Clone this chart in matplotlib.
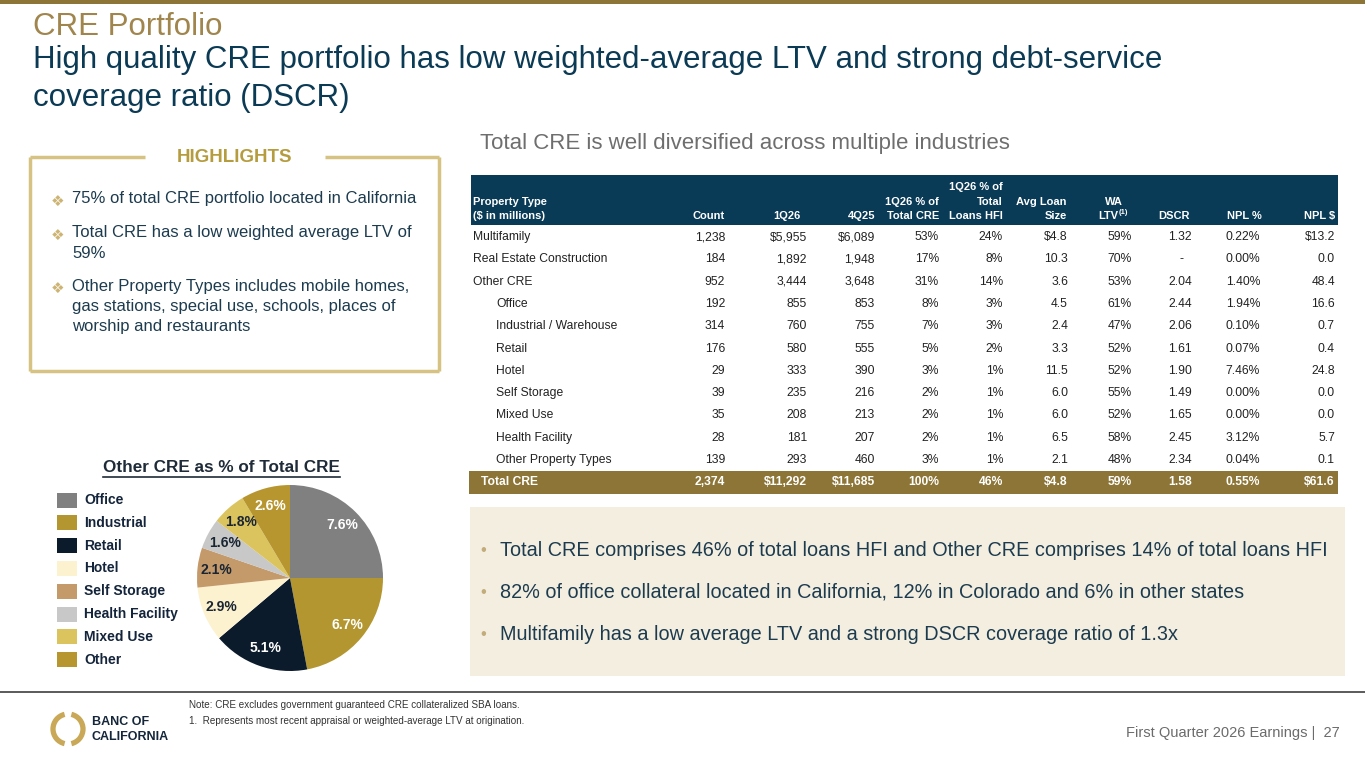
import matplotlib
matplotlib.use("Agg")
import matplotlib.pyplot as plt
from matplotlib.patches import Rectangle, Arc

plt.rcParams['font.family'] = ['Liberation Sans', 'DejaVu Sans']

# ---- data ----
property_types = ["Multifamily", "Real Estate Construction", "Other CRE", "Office",
                  "Industrial / Warehouse", "Retail", "Hotel", "Self Storage",
                  "Mixed Use", "Health Facility", "Other Property Types"]
indented = [False, False, False, True, True, True, True, True, True, True, True]
count = [1238, 184, 952, 192, 314, 176, 29, 39, 35, 28, 139]
bal_1q26 = [5955, 1892, 3444, 855, 760, 580, 333, 235, 208, 181, 293]
bal_4q25 = [6089, 1948, 3648, 853, 755, 555, 390, 216, 213, 207, 460]
pct_total_cre = [53, 17, 31, 8, 7, 5, 3, 2, 2, 2, 3]
pct_loans_hfi = [24, 8, 14, 3, 3, 2, 1, 1, 1, 1, 1]
avg_loan = [4.8, 10.3, 3.6, 4.5, 2.4, 3.3, 11.5, 6.0, 6.0, 6.5, 2.1]
wa_ltv = [59, 70, 53, 61, 47, 52, 52, 55, 52, 58, 48]
dscr = [1.32, None, 2.04, 2.44, 2.06, 1.61, 1.90, 1.49, 1.65, 2.45, 2.34]
npl_pct = [0.22, 0.00, 1.40, 1.94, 0.10, 0.07, 7.46, 0.00, 0.00, 3.12, 0.04]
npl_amt = [13.2, 0.0, 48.4, 16.6, 0.7, 0.4, 24.8, 0.0, 0.0, 5.7, 0.1]

total_row = ["Total CRE", "2,374", "$11,292", "$11,685", "100%", "46%", "$4.8",
             "59%", "1.58", "0.55%", "$61.6"]

pie_labels = ["Office", "Industrial", "Retail", "Hotel", "Self Storage",
              "Health Facility", "Mixed Use", "Other"]
pie_values = [7.6, 6.7, 5.1, 2.9, 2.1, 1.6, 1.8, 2.6]
pie_colors = ["#808080", "#B3962F", "#0C1B2B", "#FDF2CF", "#C49A6B",
              "#C8C8C8", "#DBC45E", "#B8962F"]
pie_text_colors = ["white", "white", "white", "#1A2533", "#1A2533",
                   "#1A2533", "#1A2533", "white"]

highlights = [
    "75% of total CRE portfolio located in California",
    "Total CRE has a low weighted average LTV of\n59%",
    "Other Property Types includes mobile homes,\ngas stations, special use, schools, places of\nworship and restaurants",
]
takeaways = [
    "Total CRE comprises 46% of total loans HFI and Other CRE comprises 14% of total loans HFI",
    "82% of office collateral located in California, 12% in Colorado and 6% in other states",
    "Multifamily has a low average LTV and a strong DSCR coverage ratio of 1.3x",
]

NAVY = "#0B3A55"
TEAL_TXT = "#1C3B4E"
GOLD = "#8C7536"
W, H = 1365, 768

fig = plt.figure(figsize=(W / 100, H / 100), dpi=100)
ax = fig.add_axes([0, 0, 1, 1])
ax.set_xlim(0, W)
ax.set_ylim(H, 0)
ax.axis('off')

# top bar + titles
ax.add_patch(Rectangle((0, 0), W, 4, color=GOLD, lw=0))
ax.text(33, 27, "CRE Portfolio", fontsize=22.5, color="#A0854D", va='center')
ax.text(33, 60, "High quality CRE portfolio has low weighted-average LTV and strong debt-service",
        fontsize=22.5, color=NAVY, va='center')
ax.text(33, 98, "coverage ratio (DSCR)", fontsize=22.5, color=NAVY, va='center')

# highlights box
bc = "#D6C283"
for seg in [((30, 145), (157, 157)), ((325, 439), (157, 157)), ((30, 30), (157, 371)),
            ((439, 439), (157, 371)), ((30, 439), (371, 371))]:
    ax.plot(seg[0], seg[1], color=bc, lw=2.5, solid_capstyle='butt')
ax.text(234, 158, "HIGHLIGHTS", fontsize=13.5, fontweight='bold', color="#B59C3E",
        ha='center', va='center')
hy = [201, 235, 288]
for y, t in zip(hy, highlights):
    ax.text(58, y, "\u2756", fontsize=11, color="#CDB473", ha='center', va='center',
            family=['DejaVu Sans'])
    ax.text(72, y - 9.5, t, fontsize=12, color=TEAL_TXT, ha='left', va='top',
            linespacing=1.45)

# table
ax.text(480, 143, "Total CRE is well diversified across multiple industries",
        fontsize=16, color="#6E6E6E", va='center')
TR = 1338
ax.add_patch(Rectangle((471, 175), TR - 471, 50, color="#093A56", lw=0))
val_right = [725, 807, 875, 939, 1003, 1068, 1132, 1192, 1260, 1335]
hdr_right = [725, 801, 875, 939, 1003, 1067, 1118, 1190, 1262, 1335]
headers = [["", "", "Count"], ["", "", "1Q26"], ["", "", "4Q25"],
           ["", "1Q26 % of", "Total CRE"], ["1Q26 % of", "Total", "Loans HFI"],
           ["", "Avg Loan", "Size"], ["", "WA", "LTV"], ["", "", "DSCR"],
           ["", "", "NPL %"], ["", "", "NPL $"]]
hdr_y = [187, 202, 216]
hfs = 8
ax.text(473, hdr_y[1], "Property Type", fontsize=hfs, color='white', va='center',
        fontweight='bold')
ax.text(473, hdr_y[2], "($ in millions)", fontsize=hfs, color='white', va='center',
        fontweight='bold')
for x, lines in zip(hdr_right, headers):
    for y, t in zip(hdr_y, lines):
        if not t:
            continue
        ax.text(x + (5 if t == "WA" else 0), y, t, fontsize=hfs, color='white',
                ha='right', va='center', fontweight='bold')
        if t == "LTV":
            ax.text(x + 0.5, y - 3.5, "(1)", fontsize=5.5, color='white', ha='left',
                    va='center', fontweight='bold')

row_y0, row_h = 237, 22.3
fs = 8.7
for i, name in enumerate(property_types):
    y = row_y0 + i * row_h
    dollar = "$" if i == 0 else ""
    cells = [f"{count[i]:,}", f"{dollar}{bal_1q26[i]:,}", f"{dollar}{bal_4q25[i]:,}",
             f"{pct_total_cre[i]}%", f"{pct_loans_hfi[i]}%", f"{dollar}{avg_loan[i]:.1f}",
             f"{wa_ltv[i]}%", "-" if dscr[i] is None else f"{dscr[i]:.2f}",
             f"{npl_pct[i]:.2f}%", f"{dollar}{npl_amt[i]:.1f}"]
    ax.text(496 if indented[i] else 473, y, name, fontsize=fs, color="#222222",
            va='center')
    for x, c in zip(val_right, cells):
        xx = x - 9 if c == "-" else x
        ax.text(xx, y, c, fontsize=fs, color="#222222", ha='right', va='center')

ty = row_y0 + len(property_types) * row_h
ax.add_patch(Rectangle((469, ty - 11.5), TR - 469, 23, color=GOLD, lw=0))
ax.text(481, ty, total_row[0], fontsize=fs, color='white', va='center',
        fontweight='bold')
for x, c in zip(val_right, total_row[1:]):
    ax.text(x, ty, c, fontsize=fs, color='white', ha='right', va='center',
            fontweight='bold')

# takeaway box
ax.add_patch(Rectangle((470, 507), 1345 - 470, 169, color="#F4EEE1", lw=0))
for y, t in zip([551, 592, 634], takeaways):
    ax.text(483, y, "\u2022", fontsize=12, color="#C2AD7A", va='center', ha='center')
    ax.text(500, y, t, fontsize=14.3, color=TEAL_TXT, va='center')

# pie title + legend
ax.text(221, 467, "Other CRE as % of Total CRE", fontsize=12.3, fontweight='bold',
        color="#1F2B38", ha='center', va='center')
ax.plot([103, 340], [477, 477], color="#1F2B38", lw=1.2)
for i, (lab, col) in enumerate(zip(pie_labels, pie_colors)):
    y = 500 + i * 22.8
    ax.add_patch(Rectangle((57, y - 7.5), 20, 15, color=col, lw=0))
    ax.text(84, y, lab, fontsize=10, fontweight='bold', color="#14243A", va='center')

pcx, pcy, pr = 290, 578, 93
pax = fig.add_axes([(pcx - pr) / W, 1 - (pcy + pr) / H, 2 * pr / W, 2 * pr / H])
total_other = sum(pie_values)
wedges, texts, autotexts = pax.pie(pie_values, colors=pie_colors, startangle=90,
                                   counterclock=False,
                                   autopct=lambda p: f"{p * total_other / 100:.1f}%",
                                   pctdistance=0.8,
                                   textprops=dict(fontsize=10, fontweight='bold'))
for at, tc in zip(autotexts, pie_text_colors):
    at.set_color(tc)
pax.set_xlim(-1, 1)
pax.set_ylim(-1, 1)

# footer
ax.plot([0, W], [692, 692], color="#4D4D4D", lw=1.3)
ax.text(189, 705, "Note: CRE excludes government guaranteed CRE collateralized SBA loans.",
        fontsize=7.1, color="#333333", va='center')
ax.text(189, 721, "1.  Represents most recent appraisal or weighted-average LTV at origination.",
        fontsize=7.1, color="#333333", va='center')
ax.text(1340, 733, "First Quarter 2026 Earnings |  27", fontsize=10.5, color="#6B6B6B",
        ha='right', va='center')
ax.add_patch(Arc((68, 729), 30, 30, theta1=103, theta2=257, color="#C9A857", lw=3.8))
ax.add_patch(Arc((68, 729), 30, 30, theta1=-77, theta2=77, color="#C9A857", lw=3.8))
ax.text(92, 722, "BANC OF", fontsize=9, fontweight='bold', color="#15263A", va='center')
ax.text(92, 737, "CALIFORNIA", fontsize=9, fontweight='bold', color="#15263A", va='center')

fig.savefig("out.png", dpi=100)
